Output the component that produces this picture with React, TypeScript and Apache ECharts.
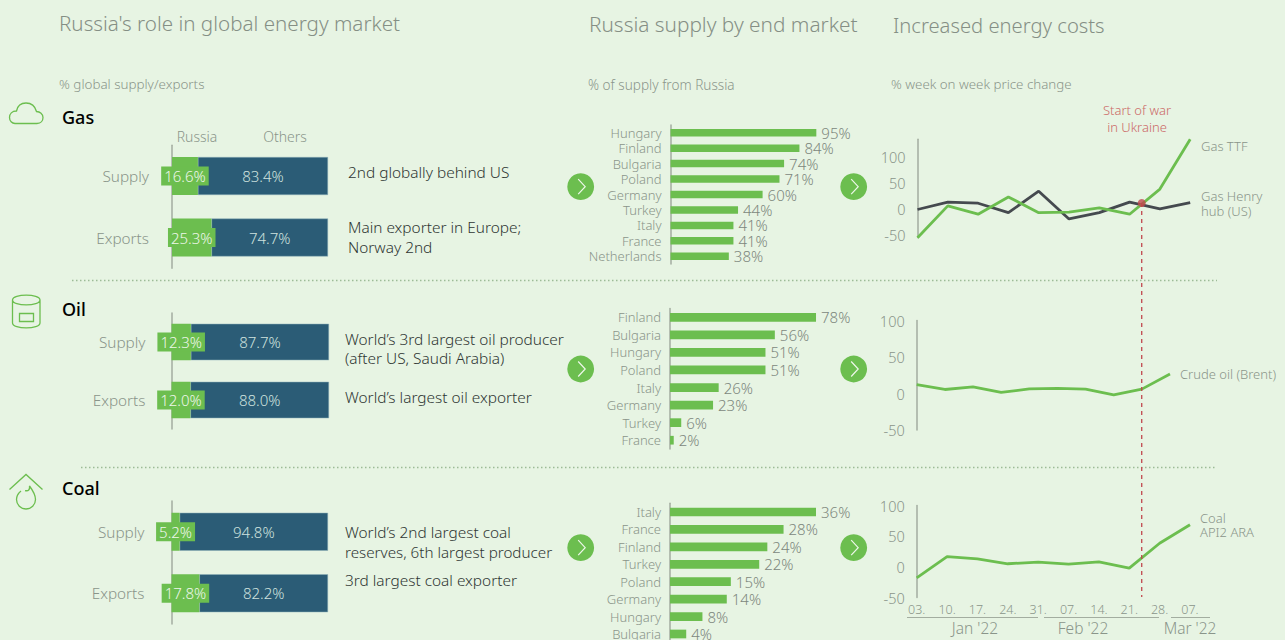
import React, { useEffect, useRef } from "react";
import * as echarts from "echarts";

const shareCategories = ["Supply", "Exports"];
const gasRussia = [16.6, 25.3];
const gasOthers = [83.4, 74.7];
const oilRussia = [12.3, 12.0];
const oilOthers = [87.7, 88.0];
const coalRussia = [5.2, 17.8];
const coalOthers = [94.8, 82.2];

const gasMarkets = ["Hungary", "Finland", "Bulgaria", "Poland", "Germany", "Turkey", "Italy", "France", "Netherlands"];
const gasMarketValues = [95, 84, 74, 71, 60, 44, 41, 41, 38];
const oilMarkets = ["Finland", "Bulgaria", "Hungary", "Poland", "Italy", "Germany", "Turkey", "France"];
const oilMarketValues = [78, 56, 51, 51, 26, 23, 6, 2];
const coalMarkets = ["Italy", "France", "Finland", "Turkey", "Poland", "Germany", "Hungary", "Bulgaria"];
const coalMarketValues = [36, 28, 24, 22, 15, 14, 8, 4];

const weeks = ["03.", "10.", "17.", "24.", "31.", "07.", "14.", "21.", "28.", "07."];
const gasTTF = [-55, 6, -10, 23, -7, -6, 2, -10, 38, 133];
const gasHenry = [-1, 13, 11, -7, 34, -19, -7, 13, 0, 12];
const brent = [12, 5.5, 9, 1.4, 6.4, 7, 6, -2, 6, 26.6];
const coalAPI2 = [-18, 16.5, 13, 5, 7.7, 4.4, 8, -2, 38.5, 68.7];
const warPosition = 7.4;

const BG = "#e7f4e3";
const GREEN = "#6cbe4f";
const TEAL = "#2b5c76";
const GREY = "#8a958a";
const TITLE = "#858f85";
const DARK = "#2f3633";
const RED = "#c0474d";
const FONT = '"Noto Sans", sans-serif';

echarts.graphic.registerShape("cloudIcon", echarts.graphic.extendPath(
  "M15 123.5 H37 C41 123.5 43 120.5 43 117.5 C43 114 40 111.5 36.5 111.5 C35 106 31 103 26 103 C21 103 17.5 106 16.5 111 C12 111 9.5 114 9.5 117.5 C9.5 121 12 123.5 15 123.5 Z", {}));
echarts.graphic.registerShape("barrelIcon", echarts.graphic.extendPath(
  "M12.5 300 C12.5 293.5 40 293.5 40 300 C40 306.5 12.5 306.5 12.5 300 Z M12.5 300 V323 C12.5 329.5 40 329.5 40 323 V300 M19.5 313.5 H33.5 V321.5 H19.5 Z", {}));
echarts.graphic.registerShape("coalIcon", echarts.graphic.extendPath(
  "M9.5 489.5 L26 474.5 L42.5 489.5 M21 491 C18 493.5 16.5 496.5 16.5 499.5 A9.5 9.5 0 0 0 35.5 499.5 C35.5 494 32.5 490 29.5 486 C30 489.5 28.5 491.5 25 490.5", {}));

const txt = (x: number, y: number, text: string, size: number, fill: string, align = "left", weight: any = 300) => ({
  type: "text", x, y, silent: true, z: 20,
  style: { text, fill, font: `${weight} ${size}px ${FONT}`, textAlign: align, textVerticalAlign: "middle" },
});
const hline = (x1: number, x2: number, y: number, stroke: string, lineDash?: number[], lineWidth = 1) => ({
  type: "line", silent: true, shape: { x1, y1: y, x2, y2: y },
  style: { stroke, lineWidth, lineDash },
});
const arrow = (cx: number, cy: number) => [
  { type: "circle", silent: true, z: 10, shape: { cx, cy, r: 13.4 }, style: { fill: GREEN } },
  {
    type: "polyline", silent: true, z: 11,
    shape: { points: [[cx - 2.5, cy - 7.5], [cx + 4.5, cy], [cx - 2.5, cy + 7.5]] },
    style: { stroke: "#eef7ea", fill: "none", lineWidth: 1.2 },
  },
];
const icon = (type: string) => ({ type, silent: true, style: { stroke: GREEN, fill: "none", lineWidth: 1.3 } });

const grids: any[] = [];
const xAxes: any[] = [];
const yAxes: any[] = [];
const series: any[] = [];

function addShare(left: number, top: number, width: number, height: number, barH: number, russia: number[], others: number[], margin: number) {
  const i = grids.length;
  grids.push({ left, top, width, height });
  xAxes.push({ gridIndex: i, type: "value", min: 0, max: 100, show: false });
  yAxes.push({
    gridIndex: i, type: "category", inverse: true, data: shareCategories, z: 1,
    axisTick: { show: false },
    axisLine: { lineStyle: { color: "#a3ada0", width: 1.5 } },
    axisLabel: { color: GREY, fontSize: 15.3, fontFamily: FONT, fontWeight: 300, margin },
  });
  const base = { type: "bar", stack: "s" + i, xAxisIndex: i, yAxisIndex: i, barWidth: barH };
  series.push({
    ...base, name: "Russia", data: russia, z: 3,
    itemStyle: { color: GREEN },
    label: {
      show: true, position: "inside", color: "#eef7ea", fontSize: 15, fontWeight: 300, fontFamily: FONT,
      backgroundColor: GREEN, padding: [2, 3], formatter: (p: any) => p.value.toFixed(1) + "%",
    },
  });
  series.push({
    ...base, name: "Others", data: others, z: 2,
    itemStyle: { color: TEAL, borderColor: "#8fb0b8", borderWidth: 0.5 },
    label: {
      show: true, position: "inside", color: "#cfe2df", fontSize: 15, fontWeight: 300, fontFamily: FONT,
      formatter: (p: any) => p.value.toFixed(1) + "%",
    },
  });
}

function addMarket(left: number, top: number, height: number, width: number, max: number, barH: number, cats: string[], vals: number[]) {
  const i = grids.length;
  grids.push({ left, top, width, height });
  xAxes.push({ gridIndex: i, type: "value", min: 0, max, show: false });
  yAxes.push({
    gridIndex: i, type: "category", inverse: true, data: cats,
    axisTick: { show: false },
    axisLine: { lineStyle: { color: "#a3ada0", width: 1.5 } },
    axisLabel: { color: GREY, fontSize: 13, fontFamily: FONT, fontWeight: 300, margin: 9, interval: 0 },
  });
  series.push({
    type: "bar", xAxisIndex: i, yAxisIndex: i, barWidth: barH, data: vals,
    itemStyle: { color: GREEN },
    label: {
      show: true, position: "right", distance: 5, color: "#7d877d", fontSize: 15, fontWeight: 300, fontFamily: FONT,
      formatter: "{c}%",
    },
  });
}

function addTrend(left: number, top: number, width: number, height: number, min: number, max: number, lines: { d: number[]; c: string }[], showLabels: boolean) {
  const i = grids.length;
  grids.push({ left, top, width, height });
  xAxes.push({
    gridIndex: i, type: "category", data: weeks, boundaryGap: false,
    axisLine: { show: false }, axisTick: { show: false },
    axisLabel: { show: showLabels, interval: 0, color: GREY, fontSize: 12.5, fontWeight: 300, fontFamily: FONT, margin: 5, hideOverlap: false },
  });
  yAxes.push({
    gridIndex: i, type: "value", min, max, splitLine: { show: false },
    axisTick: { show: false },
    axisLine: { show: true, lineStyle: { color: "#a3ada0", width: 1.5 } },
    axisLabel: { customValues: [-50, 0, 50, 100], color: GREY, fontSize: 14.5, fontWeight: 300, fontFamily: FONT, margin: 12 },
  });
  lines.forEach((l) => series.push({
    type: "line", xAxisIndex: i, yAxisIndex: i, data: l.d, symbol: "none", clip: false,
    lineStyle: { color: l.c, width: 2.8 },
  }));
}

addShare(172, 145.25, 156, 123, 38, gasRussia, gasOthers, 23);
addShare(171.5, 313, 157.5, 116, 36.5, oilRussia, oilOthers, 26);
addShare(171.5, 501, 156.5, 123, 38, coalRussia, coalOthers, 27);

addMarket(670.5, 125, 139, 153.5, 100, 7.5, gasMarkets, gasMarketValues);
addMarket(670, 308.5, 140.5, 187.2, 100, 8.7, oilMarkets, oilMarketValues);
addMarket(670, 503.3, 139.4, 146, 36, 8.7, coalMarkets, coalMarketValues);

addTrend(917.5, 139.3, 272.7, 98.5, -55, 133, [{ d: gasHenry, c: "#454a4f" }, { d: gasTTF, c: GREEN }], false);
addTrend(916.7, 320.5, 253.3, 109.5, -50, 100, [{ d: brent, c: GREEN }], false);
addTrend(916.7, 505.5, 273.3, 92, -50, 100, [{ d: coalAPI2, c: GREEN }], true);

// overlay for the war marker, sharing the gas trend's horizontal scale
const ov = grids.length;
grids.push({ left: 917.5, top: 203, width: 272.7, height: 394 });
xAxes.push({ gridIndex: ov, type: "value", min: 0, max: 9, show: false });
yAxes.push({ gridIndex: ov, type: "value", min: 0, max: 1, show: false });
series.push({
  type: "line", xAxisIndex: ov, yAxisIndex: ov, symbol: "none", clip: false, z: 5,
  data: [[warPosition, 1], [warPosition, 0]],
  lineStyle: { color: RED, width: 1.3, type: [4, 4] },
});
series.push({
  type: "scatter", xAxisIndex: ov, yAxisIndex: ov, symbolSize: 8, clip: false, z: 6,
  data: [[warPosition, 1]], itemStyle: { color: RED },
});

const graphics: any[] = [
  txt(59, 22.5, "Russia's role in global energy market", 20.6, TITLE),
  txt(589, 23.5, "Russia supply by end market", 20.8, TITLE),
  txt(893, 24.5, "Increased energy costs", 20.2, TITLE),
  txt(59, 84, "% global supply/exports", 13.4, GREY),
  txt(588, 84, "% of supply from Russia", 13.6, GREY),
  txt(891, 84, "% week on week price change", 13.3, GREY),
  txt(62, 116.5, "Gas", 18, "#000", "left", 500),
  txt(62, 308.5, "Oil", 18, "#000", "left", 500),
  txt(62, 487.5, "Coal", 18, "#000", "left", 500),
  txt(197, 136, "Russia", 14, GREY, "center"),
  txt(285, 136, "Others", 14, GREY, "center"),
  txt(348, 172.5, "2nd globally behind US", 15.4, DARK),
  txt(348, 227, "Main exporter in Europe;", 15.4, DARK),
  txt(348, 247, "Norway 2nd", 15.4, DARK),
  txt(345, 339, "World\u2019s 3rd largest oil producer", 15.4, DARK),
  txt(345, 358, "(after US, Saudi Arabia)", 15.4, DARK),
  txt(345, 397, "World\u2019s largest oil exporter", 15.4, DARK),
  txt(345, 532, "World\u2019s 2nd largest coal", 15.4, DARK),
  txt(345, 552, "reserves, 6th largest producer", 15.2, DARK),
  txt(345, 580, "3rd largest coal exporter", 15.4, DARK),
  txt(1137, 110, "Start of war", 13, "#cc6a68", "center"),
  txt(1137, 127, "in Ukraine", 13, "#cc6a68", "center"),
  txt(1201, 146, "Gas TTF", 13, GREY),
  txt(1201, 195.5, "Gas Henry", 13, GREY),
  txt(1201, 210.5, "hub (US)", 13, GREY),
  txt(1180, 374, "Crude oil (Brent)", 13, GREY),
  txt(1200, 517.5, "Coal", 13, GREY),
  txt(1200, 532, "API2 ARA", 13, GREY),
  txt(975, 628, "Jan '22", 15.5, GREY, "center"),
  txt(1083, 628, "Feb '22", 15.5, GREY, "center"),
  txt(1190, 628, "Mar '22", 15.5, GREY, "center"),
  hline(907, 1038, 617.5, "#a3ada0"),
  hline(1044, 1159, 617.5, "#a3ada0"),
  hline(1171, 1210, 617.5, "#a3ada0"),
  hline(72, 1217, 280.5, "#9dbb97", [1.5, 2.5], 1.5),
  hline(81, 1217, 467.5, "#9dbb97", [1.5, 2.5], 1.5),
  icon("cloudIcon"), icon("barrelIcon"), icon("coalIcon"),
  ...arrow(580.7, 186.7), ...arrow(853.7, 186.7),
  ...arrow(580.7, 369), ...arrow(853.7, 369),
  ...arrow(580.7, 547.7), ...arrow(853.7, 547.7),
];

export default function App() {
  const ref = useRef<HTMLDivElement>(null);
  useEffect(() => {
    document.body.style.margin = "0";
    document.body.style.background = BG;
    const chart = echarts.init(ref.current!, undefined, { renderer: "svg" });
    chart.setOption({
      animation: false,
      backgroundColor: BG,
      textStyle: { fontFamily: FONT },
      grid: grids, xAxis: xAxes, yAxis: yAxes, series,
      graphic: graphics,
    });
    return () => chart.dispose();
  }, []);
  return (
    <div style={{ width: 1285, height: 640, overflow: "hidden" }}>
      <div ref={ref} style={{ width: 1285, height: 660 }} />
    </div>
  );
}
